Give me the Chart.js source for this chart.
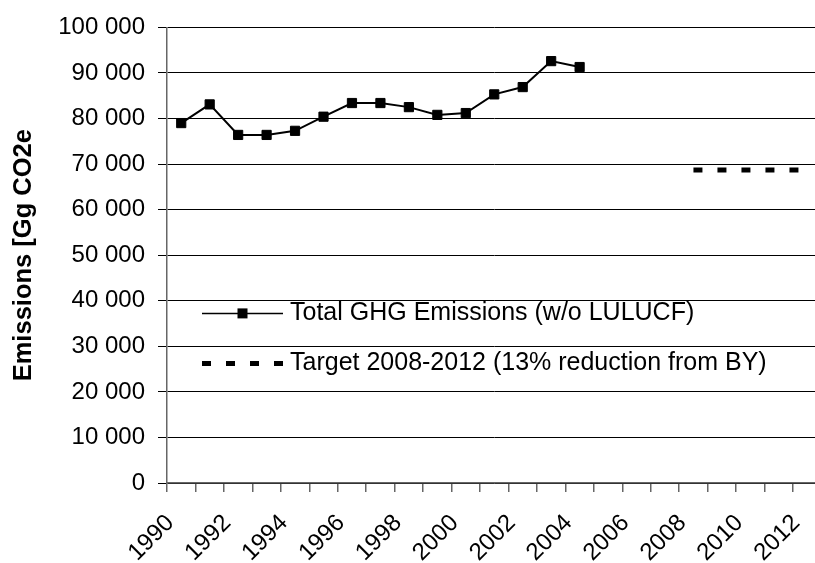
<!DOCTYPE html>
<html>
<head>
<meta charset="utf-8">
<script src="https://cdn.jsdelivr.net/npm/chart.js@4/dist/chart.umd.min.js"></script>
<style>
  html, body { margin: 0; padding: 0; background: #fff; overflow: hidden; }
  #wrap { width: 829px; height: 563px; }
</style>
</head>
<body>
<div id="wrap"><canvas id="ghg"></canvas></div>
<script>
// years on the x axis
const years = ["1990","1991","1992","1993","1994","1995","1996","1997","1998","1999","2000","2001",
               "2002","2003","2004","2005","2006","2007","2008","2009","2010","2011","2012"];

// Gg CO2e
const totalGhg = [79000, 83100, 76400, 76400, 77300, 80400, 83400, 83400, 82500, 80800, 81200, 85300,
                  86900, 92600, 91300, null, null, null, null, null, null, null, null];
const target = [null, null, null, null, null, null, null, null, null, null, null, null,
                null, null, null, null, null, null, 68700, 68700, 68700, 68700, 68700];

const yTicks = [0, 10000, 20000, 30000, 40000, 50000, 60000, 70000, 80000, 90000, 100000];

const fmt = v => v >= 1000 ? Math.floor(v / 1000) + " " + String(v % 1000).padStart(3, "0") : String(v);

// legend drawn inside the plot, like the original
const innerLegend = {
    id: "innerLegend",
    afterDraw(chart) {
        const ctx = chart.ctx;
        const a = chart.chartArea;
        const x0 = a.left + 35, x1 = a.left + 116, tx = a.left + 123;
        const rows = [a.top + 286, a.top + 336];
        ctx.save();
        chart.data.datasets.forEach((ds, i) => {
            const y = rows[i];
            ctx.strokeStyle = "#000";
            ctx.beginPath();
            if (i === 0) {
                ctx.lineWidth = 1.5;
                ctx.setLineDash([]);
            } else {
                ctx.lineWidth = 5;
                ctx.setLineDash([9, 15]);
            }
            ctx.moveTo(x0, y);
            ctx.lineTo(x1, y);
            ctx.stroke();
            ctx.setLineDash([]);
            if (i === 0) {
                ctx.fillStyle = "#000";
                ctx.fillRect((x0 + x1) / 2 - 5, y - 5, 10, 10);
            }
            ctx.fillStyle = "#000";
            ctx.font = "25px 'Liberation Sans', Arial, sans-serif";
            ctx.textBaseline = "middle";
            ctx.textAlign = "left";
            ctx.fillText(ds.label, tx, y);
        });
        ctx.restore();
    }
};

const ctx = document.getElementById("ghg").getContext("2d");
new Chart(ctx, {
    type: "line",
    data: {
        labels: years,
        datasets: [
            {
                label: "Total GHG Emissions (w/o LULUCF)",
                data: totalGhg,
                borderColor: "#000",
                borderWidth: 2,
                pointStyle: "rect",
                pointRadius: 6.5,
                pointBackgroundColor: "#000",
                pointBorderColor: "#000",
                pointBorderWidth: 1,
                tension: 0,
                spanGaps: false,
            },
            {
                label: "Target 2008-2012 (13% reduction from BY)",
                data: target,
                borderColor: "#000",
                borderWidth: 5,
                borderDash: [9, 15],
                borderCapStyle: "butt",
                pointRadius: 0,
                tension: 0,
            }
        ]
    },
    options: {
        responsive: true,
        maintainAspectRatio: false,
        devicePixelRatio: 1,
        animation: false,
        layout: { padding: { top: 27, right: 0, left: 0, bottom: 0 } },
        plugins: { legend: { display: false }, tooltip: { enabled: false } },
        scales: {
            x: {
                type: "category",
                offset: true,
                grid: { drawOnChartArea: false, offset: true, tickLength: 9, color: "#666", lineWidth: 1.5 },
                border: { color: "#666", width: 1.5 },
                ticks: {
                    autoSkip: false,
                    maxRotation: 45,
                    minRotation: 45,
                    labelOffset: -11,
                    padding: 17,
                    color: "#000",
                    font: { family: "'Liberation Sans', Arial, sans-serif", size: 24 },
                    callback: (v, i) => (i % 2 === 0 ? years[i] : "")
                },
                afterFit: s => { s.height = 80; s.paddingRight = 0; s.paddingLeft = 0; }
            },
            y: {
                min: 0,
                max: 100000,
                afterBuildTicks: s => { s.ticks = yTicks.map(v => ({ value: v })); },
                grid: { color: "#000", lineWidth: 1, tickLength: 9, tickColor: "#000" },
                border: { color: "#666", width: 1.5 },
                ticks: {
                    padding: 13,
                    color: "#000",
                    font: { family: "'Liberation Sans', Arial, sans-serif", size: 24 },
                    callback: v => fmt(v)
                },
                title: {
                    display: true,
                    text: "Emissions [Gg CO2e",
                    color: "#000",
                    padding: { top: 9, bottom: 0 },
                    font: { family: "'Liberation Sans', Arial, sans-serif", size: 25.5, weight: "bold" }
                },
                afterFit: s => { s.width = 167; }
            }
        }
    },
    plugins: [innerLegend]
});
</script>
</body>
</html>
